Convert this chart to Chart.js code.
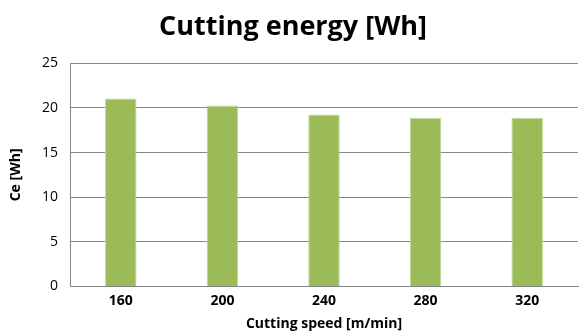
<!DOCTYPE html>
<html>
<head>
<meta charset="utf-8">
<script src="https://cdn.jsdelivr.net/npm/chart.js@4.4.0/dist/chart.umd.min.js"></script>
<style>
  html, body { margin: 0; padding: 0; background: #fff; }
  #wrap { width: 580px; height: 336px; }
</style>
</head>
<body>
<div id="wrap"><canvas id="chart" width="580" height="336"></canvas></div>
<script>
const speeds = ['160', '200', '240', '280', '320'];
const energy = [21.07, 20.28, 19.27, 18.9, 18.9];
const yTicks = [0, 5, 10, 15, 20, 25];

const font = "'Open Sans', 'Liberation Sans', sans-serif";

const ctx = document.getElementById('chart').getContext('2d');
new Chart(ctx, {
  type: 'bar',
  data: {
    labels: speeds,
    datasets: [{
      label: 'Ce',
      data: energy,
      backgroundColor: '#9bbb59',
      borderColor: '#c3d69b',
      borderWidth: 1,
      categoryPercentage: 1,
      barPercentage: 0.31
    }]
  },
  options: {
    responsive: false,
    animation: false,
    layout: { padding: { left: 8, right: 2, top: 11, bottom: 4 } },
    plugins: {
      legend: { display: false },
      tooltip: { enabled: false },
      title: {
        display: true,
        text: 'Cutting energy [Wh]',
        color: '#000',
        font: { family: font, size: 27, weight: 'bold' },
        padding: { top: 0, bottom: 20 }
      }
    },
    scales: {
      x: {
        grid: { display: false, drawTicks: false },
        border: { color: '#868686', width: 1 },
        ticks: { color: '#000', font: { family: font, size: 14, weight: 'bold' }, padding: 6 },
        title: {
          display: true,
          text: 'Cutting speed [m/min]',
          color: '#000',
          font: { family: font, size: 14, weight: 'bold' },
          padding: { top: 0, bottom: 0 }
        }
      },
      y: {
        min: 0,
        max: 25,
        afterBuildTicks: axis => { axis.ticks = yTicks.map(v => ({ value: v })); },
        afterFit: axis => { axis.width = 62; },
        grid: { color: '#868686', drawTicks: false },
        border: { color: '#868686', width: 1 },
        ticks: { color: '#000', font: { family: font, size: 14 }, padding: 12 },
        title: {
          display: true,
          text: 'Ce [Wh]',
          color: '#000',
          font: { family: font, size: 14, weight: 'bold' },
          padding: { top: 0, bottom: 0 }
        }
      }
    }
  }
});
</script>
</body>
</html>
